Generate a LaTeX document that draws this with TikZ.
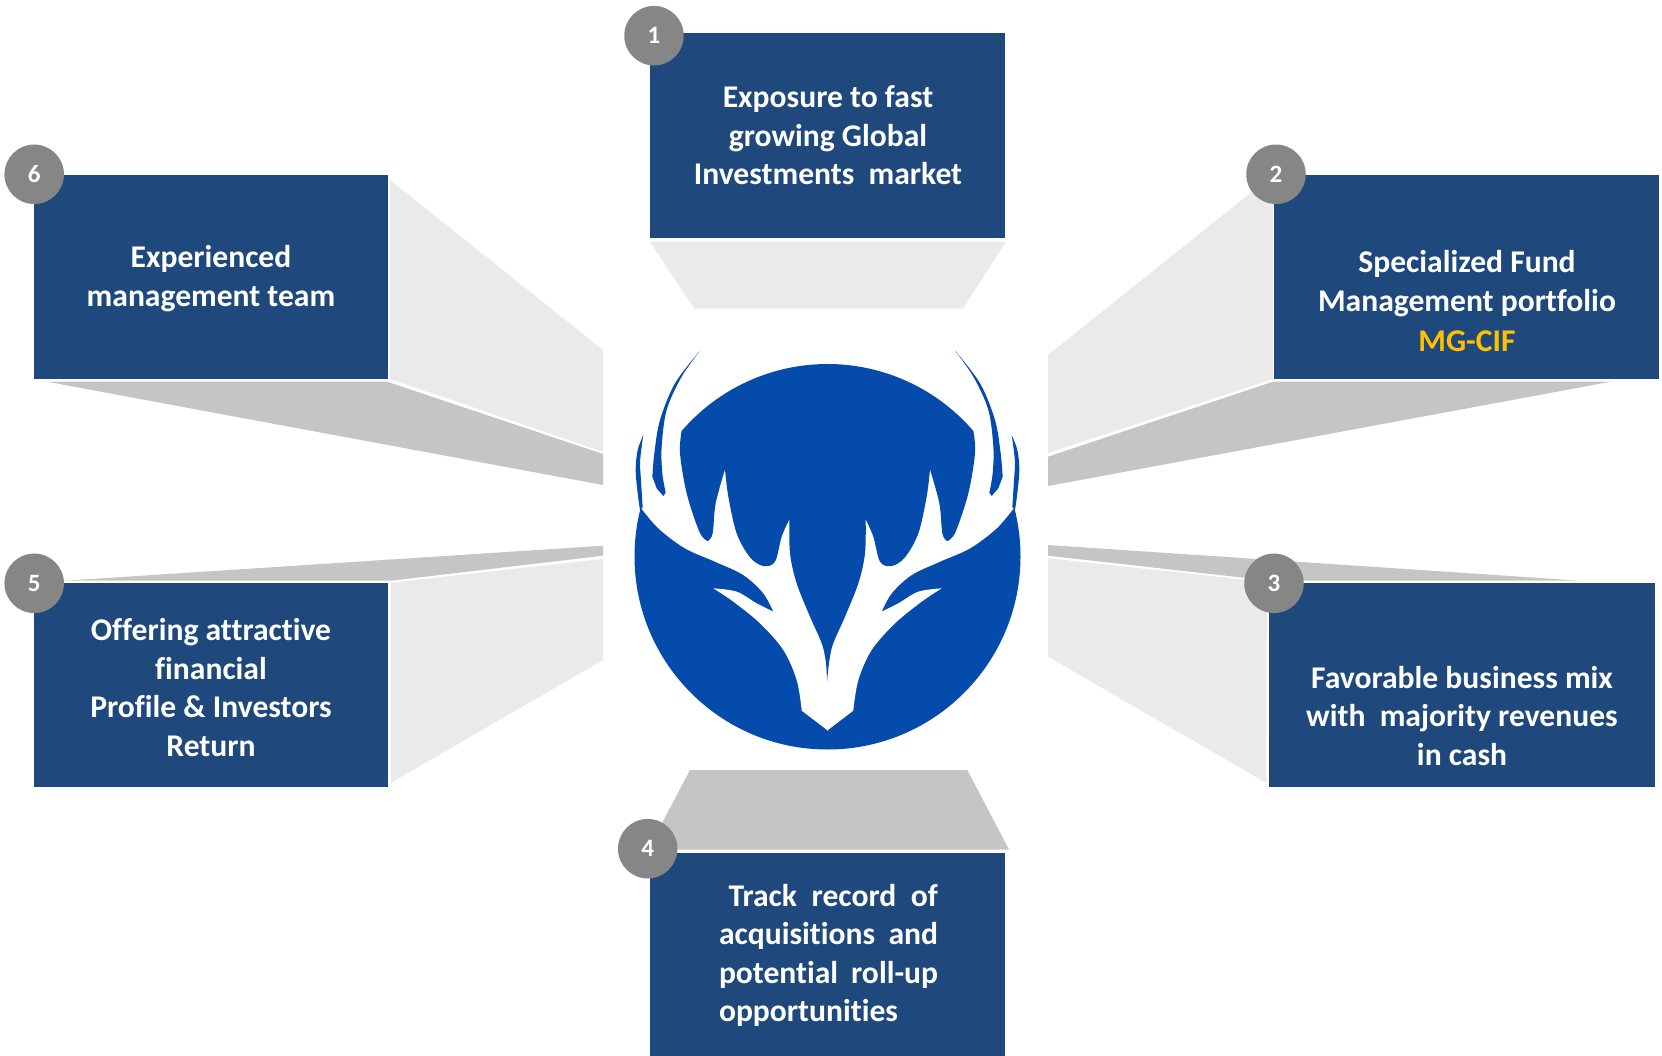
\documentclass[tikz,border=0pt]{standalone}
\usepackage{fontspec}
\setmainfont{Carlito}[Ligatures=NoCommon]
\definecolor{boxblue}{HTML}{1F497D}
\definecolor{lightface}{HTML}{EAEAEA}
\definecolor{darkface}{HTML}{C5C5C5}
\definecolor{badgegrey}{HTML}{868686}
\definecolor{logoblue}{HTML}{054BAC}
\definecolor{mgyellow}{HTML}{FFC000}
\newcommand{\antlerhalf}{%
  % white antler and everything above it
  \fill[white] (684,1232) -- (605,1172)
    -- plot[smooth,tension=.55] coordinates {(605,1170) (590,1080) (550,990) (480,910) (400,845) (340,805)}
    -- plot[smooth,tension=.55] coordinates {(340,805) (410,815) (470,850) (520,875)}
    -- plot[smooth,tension=.55] coordinates {(520,875) (490,820) (430,765) (345,725) (255,685) (175,625) (120,560)}
    -- (85,560) -- (85,60) -- (684,60) -- cycle;
  % crown of the disc between the antlers
  \fill[logoblue] (690,132) -- (683,132) arc[start angle=-90,end angle=-139.2,radius=578]
    -- plot[smooth,tension=.55] coordinates {(245,332) (240,400) (260,520) (298,635) (322,663)}
    -- plot[smooth,tension=.55] coordinates {(325,662) (338,640) (347,550) (375,448)}
    -- plot[smooth,tension=.55] coordinates {(375,448) (385,530) (410,640) (450,712) (490,738) (525,725) (545,650) (568,598)}
    -- plot[smooth,tension=.55] coordinates {(568,598) (570,700) (590,790) (630,890) (670,985) (684,1085)}
    -- (690,900) -- cycle;
  % inner thin tine
  \fill[logoblue] plot[smooth,tension=.55] coordinates {(300,92) (225,190) (180,300) (163,400) (157,470)}
    -- (170,505) -- (190,528) -- (197,518)
    -- plot[smooth,tension=.55] coordinates {(197,518) (187,460) (185,380) (200,270) (245,170) (300,92)} -- cycle;
  % outer thin tine
  \fill[logoblue] plot[smooth,tension=.55] coordinates {(130,345) (113,390) (107,450) (113,520) (120,570)}
    -- plot[smooth,tension=.55] coordinates {(128,562) (126,530) (123,480) (120,430) (125,380) (130,345)} -- cycle;
}
\tikzset{
  facelight/.style={fill=lightface,draw=none},
  facedark/.style={fill=darkface,draw=none},
  infobox/.style={rectangle,fill=boxblue,draw=none,inner sep=0pt},
  badge/.style={circle,fill=badgegrey,draw=none,minimum size=59.5pt,inner sep=0pt,text=white,font=\fontsize{25}{30}\selectfont\bfseries},
  boxtext/.style={text=white,align=center,inner sep=0pt,font=\fontsize{31.6}{38.5}\selectfont\bfseries}
}
\begin{document}
\begin{tikzpicture}[x=1pt,y=-1pt]
\useasboundingbox (0,0) rectangle (1662,1056);
\fill[white] (0,0) rectangle (1662,1056);

% perspective faces
\fill[facelight] (650,241.7) -- (1006,241.7) -- (962.7,308.7) -- (694.3,308.7) -- cycle;
\fill[facedark] (690,770) -- (967.3,770) -- (1009,849.7) -- (648,849.7) -- cycle;

\fill[facelight] (390,180) -- (603,350) -- (603,451.7) -- (390,379) -- cycle;
\fill[facedark] (47,381.7) -- (387,381.7) -- (603,454) -- (603,485) -- cycle;

\fill[facelight] (1048,355) -- (1273,175) -- (1273,379) -- (1048,453) -- cycle;
\fill[facedark] (1048,456.7) -- (1273,381.7) -- (1611,381.7) -- (1048,486) -- cycle;

\fill[facelight] (391,582.7) -- (603,559) -- (603,660) -- (391,782.7) -- cycle;
\fill[facedark] (65,580.7) -- (391,580.7) -- (603,555.7) -- (603,545.7) -- cycle;

\fill[facelight] (1048,558.3) -- (1267,582) -- (1266,782.7) -- (1048,656.7) -- cycle;
\fill[facedark] (1048,545) -- (1048,555.7) -- (1270,580.7) -- (1580,580.7) -- cycle;

% boxes
\node[infobox,minimum width=355pt,minimum height=205pt] (box1) at (827,135.8) {};
\node[infobox,minimum width=385pt,minimum height=204.3pt] (box2) at (1466.5,277.2) {};
\node[infobox,minimum width=386pt,minimum height=204.6pt] (box3) at (1461.5,685) {};
\node[infobox,minimum width=355pt,minimum height=204pt] (box4) at (827,954.7) {};
\node[infobox,minimum width=354.5pt,minimum height=204.6pt] (box5) at (210.8,685) {};
\node[infobox,minimum width=354.5pt,minimum height=204.3pt] (box6) at (210.8,277.2) {};

% box texts
\node[boxtext] (text1) at (828,135.2) {Exposure to fast\\growing Global\\Investments\ \ market};
\node[boxtext] (text2) at (1467,301) {Specialized Fund\\Management portfolio\\[1.5pt]\textcolor{mgyellow}{MG-CIF}};
\node[boxtext] (text3) at (1462,715.6) {Favorable business mix\\with\ \ majority revenues\\in cash};
\node[boxtext,align=left] (text4) at (828.5,955.6) {\hspace*{9.5pt}\makebox[209.5pt][s]{Track\hfill record\hfill of}\\\makebox[219pt][s]{acquisitions\hfill and}\\\makebox[219pt][s]{potential\hfill roll-up}\\opportunities};
\node[boxtext] (text5) at (211,687.5) {Offering attractive\\financial\\Profile \& Investors\\Return};
\node[boxtext] (text6) at (211,278.8) {Experienced\\management team};

% number badges
\node[badge] (n1) at (654,35.7) {1};
\node[badge] (n2) at (1276,174.3) {2};
\node[badge] (n3) at (1274,583.3) {3};
\node[badge] (n4) at (647.7,848.7) {4};
\node[badge] (n5) at (34.2,583.3) {5};
\node[badge] (n6) at (34.2,174.3) {6};

% logo
\node[circle,fill=logoblue,draw=none,minimum size=386pt,inner sep=0pt] (logo) at (827.5,556.5) {};
\begin{scope}[shift={(600,320)},scale=1/3]
  \antlerhalf
\end{scope}
\begin{scope}[shift={(1055,320)},xscale=-1/3,yscale=1/3]
  \antlerhalf
\end{scope}
\end{tikzpicture}
\end{document}
